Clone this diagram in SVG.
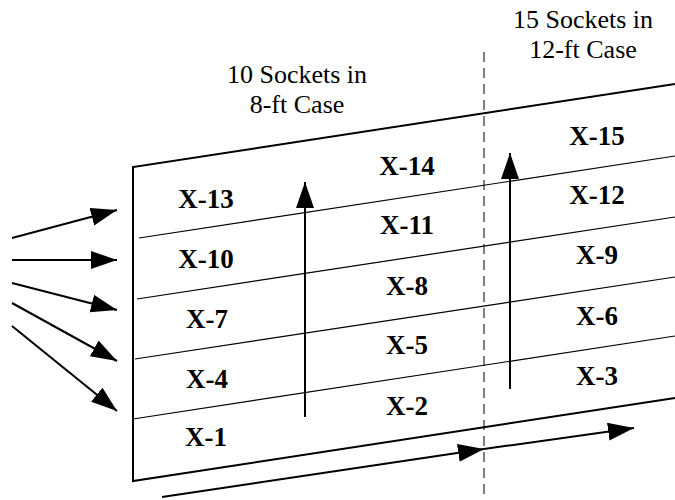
<svg xmlns="http://www.w3.org/2000/svg" width="675" height="500" viewBox="0 0 675 500">
<style>
.frame{stroke:#000;stroke-width:2;fill:none}
.row{stroke:#000;stroke-width:1.2;fill:none}
.arr{stroke:#000;stroke-width:2;fill:none;marker-end:url(#ah)}
.dash{stroke:#000;stroke-width:1;stroke-dasharray:10,6;fill:none}
.lbl{font-weight:bold;font-size:27px;text-anchor:middle;fill:#000}
.ttl{font-size:26px;text-anchor:middle;fill:#000}
</style>
<defs>
<marker id="ah" markerUnits="userSpaceOnUse" markerWidth="28" markerHeight="20" refX="26" refY="9" orient="auto">
<path d="M0,0 L26,9 L0,18 Z" fill="#000"/>
</marker>
</defs>
<g id="case">
<polyline class="frame" points="675,84 133,167 133,481 675,398"/>
<line class="row" x1="139" y1="238" x2="675" y2="156"/>
<line class="row" x1="137" y1="299" x2="675" y2="217"/>
<line class="row" x1="135" y1="359" x2="675" y2="277"/>
<line class="row" x1="133" y1="419" x2="675" y2="336"/>
<line class="dash" x1="484" y1="52" x2="484" y2="500"/>
</g>
<g id="titles" font-family="'Liberation Serif', 'DejaVu Serif', serif">
<text class="ttl" x="297" y="83">10 Sockets in</text>
<text class="ttl" x="297" y="113">8-ft Case</text>
<text class="ttl" x="583" y="28">15 Sockets in</text>
<text class="ttl" x="583" y="58">12-ft Case</text>
</g>
<g id="labels" font-family="'Liberation Serif', 'DejaVu Serif', serif">
<text class="lbl" x="206" y="208">X-13</text>
<text class="lbl" x="407" y="175">X-14</text>
<text class="lbl" x="597" y="145">X-15</text>
<text class="lbl" x="206" y="268">X-10</text>
<text class="lbl" x="407" y="234">X-11</text>
<text class="lbl" x="597" y="204">X-12</text>
<text class="lbl" x="207" y="328">X-7</text>
<text class="lbl" x="407" y="295">X-8</text>
<text class="lbl" x="597" y="264">X-9</text>
<text class="lbl" x="207" y="388">X-4</text>
<text class="lbl" x="407" y="354">X-5</text>
<text class="lbl" x="597" y="325">X-6</text>
<text class="lbl" x="206" y="446">X-1</text>
<text class="lbl" x="407" y="415">X-2</text>
<text class="lbl" x="597" y="385">X-3</text>
</g>
<g id="connectors">
<line class="arr" x1="12" y1="238" x2="117" y2="210"/>
<line class="arr" x1="12" y1="260" x2="117" y2="260"/>
<line class="arr" x1="12" y1="283" x2="117" y2="310"/>
<line class="arr" x1="12" y1="303" x2="117" y2="361"/>
<line class="arr" x1="12" y1="326" x2="117" y2="411"/>
<line class="arr" x1="305" y1="417" x2="305" y2="182"/>
<line class="arr" x1="510" y1="389" x2="510" y2="153"/>
<line class="arr" x1="162" y1="497" x2="484" y2="449"/>
<line class="arr" x1="484" y1="449" x2="634" y2="428"/>
</g>
</svg>
